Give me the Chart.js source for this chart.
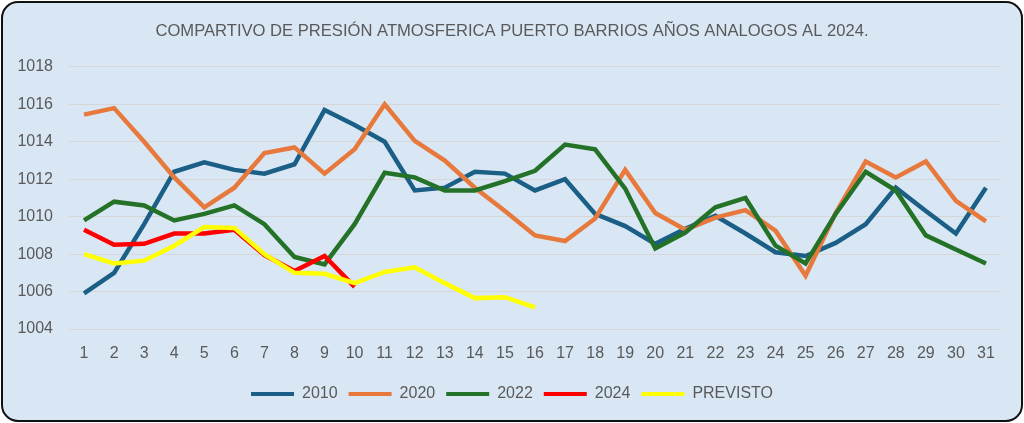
<!DOCTYPE html>
<html lang="es">
<head>
  <meta charset="UTF-8">
  <title>Presión atmosférica Puerto Barrios</title>
  <script src="https://cdn.jsdelivr.net/npm/chart.js"></script>
  <style>
    html, body { margin: 0; padding: 0; background: #ffffff; }
    #wrap { width: 1024px; height: 423px; position: relative; }
  </style>
</head>
<body>
  <div id="wrap"><canvas id="chart"></canvas></div>
<script>
// Días del mes
const days = ['1','2','3','4','5','6','7','8','9','10','11','12','13','14','15','16',
  '17','18','19','20','21','22','23','24','25','26','27','28','29','30','31'];

// Presión (hPa)
const p2010 = [1005.9, 1007.0, 1009.6, 1012.4, 1012.9, 1012.5, 1012.3, 1012.8, 1015.7, 1014.9,
  1014.0, 1011.4, 1011.55, 1012.4, 1012.3, 1011.4, 1012.0, 1010.15, 1009.5, 1008.55, 1009.35,
  1010.05, 1009.1, 1008.1, 1007.9, 1008.6, 1009.6, 1011.55, 1010.3, 1009.1, 1011.55];
const p2020 = [1015.45, 1015.8, 1014.0, 1012.1, 1010.5, 1011.55, 1013.4, 1013.7, 1012.3, 1013.6,
  1016.0, 1014.05, 1013.0, 1011.55, 1010.3, 1009.0, 1008.7, 1009.9, 1012.5, 1010.2, 1009.3,
  1009.95, 1010.35, 1009.25, 1006.85, 1010.2, 1012.95, 1012.1, 1012.95, 1010.85, 1009.75];
const p2022 = [1009.8, 1010.8, 1010.6, 1009.8, 1010.15, 1010.6, 1009.6, 1007.85, 1007.45, 1009.6,
  1012.35, 1012.1, 1011.4, 1011.4, 1011.9, 1012.45, 1013.85, 1013.6, 1011.5, 1008.3, 1009.15,
  1010.5, 1011.0, 1008.45, 1007.5, 1010.15, 1012.4, 1011.4, 1009.0, 1008.25, 1007.5];
const p2024 = [1009.3, 1008.5, 1008.55, 1009.1, 1009.1, 1009.3, 1007.95, 1007.1, 1007.9, 1006.25];
const previsto = [1008.0, 1007.5, 1007.65, 1008.45, 1009.45, 1009.4, 1008.0, 1007.0, 1006.95, 1006.45,
  1007.05, 1007.3, 1006.45, 1005.65, 1005.7, 1005.15];

const yTicks = [1004, 1006, 1008, 1010, 1012, 1014, 1016, 1018];

const textColor = '#595959';
const fontFamily = '"Liberation Sans", Arial, sans-serif';

// fondo azul claro con marco redondeado
const cardBackground = {
  id: 'cardBackground',
  beforeDraw(chart) {
    const ctx = chart.ctx;
    const x = 2, y = 2, w = chart.width - 4, h = chart.height - 4, r = 16;
    ctx.save();
    ctx.beginPath();
    ctx.moveTo(x + r, y);
    ctx.arcTo(x + w, y, x + w, y + h, r);
    ctx.arcTo(x + w, y + h, x, y + h, r);
    ctx.arcTo(x, y + h, x, y, r);
    ctx.arcTo(x, y, x + w, y, r);
    ctx.closePath();
    ctx.fillStyle = '#d9e7f5';
    ctx.fill();
    ctx.lineWidth = 2;
    ctx.strokeStyle = '#111111';
    ctx.stroke();
    ctx.restore();
  }
};

function line(label, data, color, order) {
  return {
    label, data, order,
    borderColor: color,
    backgroundColor: color,
    borderWidth: 4.5,
    pointRadius: 0,
    tension: 0,
    fill: false
  };
}

new Chart(document.getElementById('chart'), {
  type: 'line',
  data: {
    labels: days,
    datasets: [
      line('2010', p2010, '#1b5f86', 5),
      line('2020', p2020, '#e8793c', 4),
      line('2022', p2022, '#247228', 3),
      line('2024', p2024, '#ff0000', 2),
      line('PREVISTO', previsto, '#ffff00', 1)
    ]
  },
  plugins: [cardBackground],
  options: {
    responsive: true,
    maintainAspectRatio: false,
    animation: false,
    layout: { padding: { left: 0, right: 0, top: 21, bottom: 11 } },
    plugins: {
      title: {
        display: true,
        text: 'COMPARTIVO DE PRESIÓN ATMOSFERICA PUERTO BARRIOS AÑOS ANALOGOS AL 2024.',
        color: textColor,
        font: { family: fontFamily, size: 16.6, weight: 'normal' },
        padding: { top: 0, bottom: 26 }
      },
      legend: {
        position: 'bottom',
        labels: {
          color: textColor,
          font: { family: fontFamily, size: 16 },
          boxWidth: 43,
          boxHeight: 4,
          padding: 11,
          sort: (a, b) => a.datasetIndex - b.datasetIndex,
          generateLabels(chart) {
            return Chart.defaults.plugins.legend.labels.generateLabels(chart)
              .map(l => Object.assign(l, { lineWidth: 0, fillStyle: l.strokeStyle }));
          }
        }
      },
      tooltip: { enabled: false }
    },
    scales: {
      x: {
        offset: true,
        grid: { display: false, drawTicks: false },
        border: { display: false },
        ticks: { color: textColor, font: { family: fontFamily, size: 16 }, padding: 15, maxRotation: 0, autoSkip: false },
        afterFit(scale) { scale.height = 46; }
      },
      y: {
        min: 1004,
        max: 1018,
        grid: { color: '#d6d6d6', lineWidth: 1, drawTicks: false },
        border: { display: false },
        ticks: {
          color: textColor,
          font: { family: fontFamily, size: 16 },
          padding: 16,
          stepSize: 2,
          callback: v => yTicks.includes(v) ? String(v) : ''
        },
        afterFit(scale) { scale.width = 69; }
      },
      // margen derecho vacío (mantiene título y leyenda centrados en el lienzo)
      yRight: {
        position: 'right',
        min: 1004,
        max: 1018,
        grid: { display: false, drawTicks: false },
        border: { display: false },
        ticks: { display: false },
        afterFit(scale) { scale.width = 23; }
      }
    }
  }
});
</script>
</body>
</html>
